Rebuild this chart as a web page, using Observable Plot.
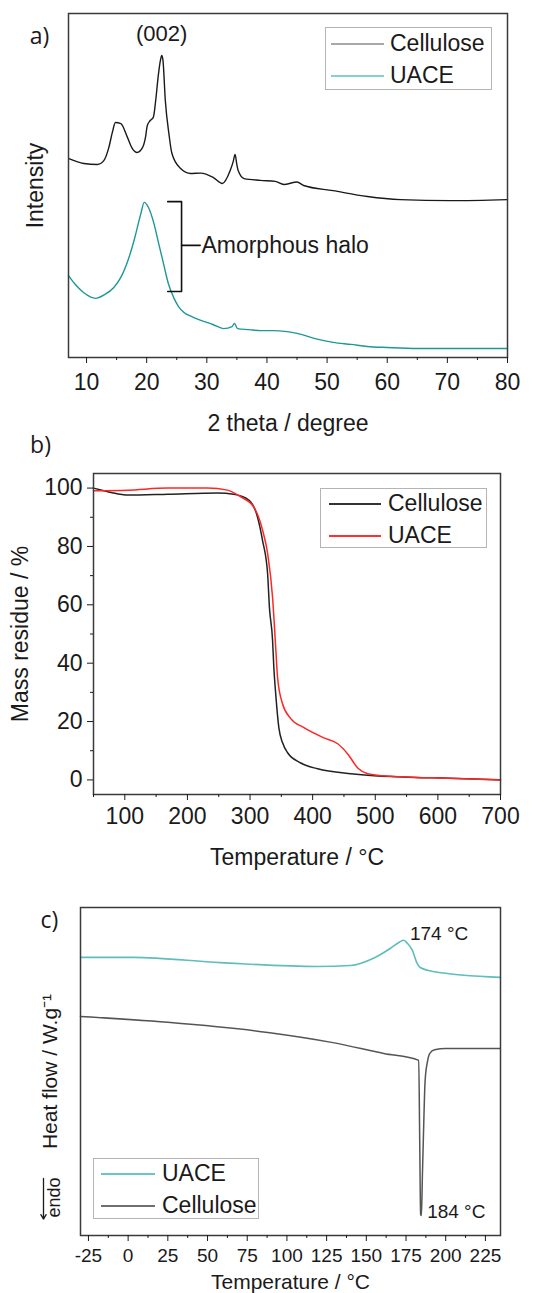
<!DOCTYPE html>
<html><head><meta charset="utf-8">
<script src="https://cdn.jsdelivr.net/npm/d3@7"></script>
<script src="https://cdn.jsdelivr.net/npm/@observablehq/plot@0.6"></script>
<style>
body{margin:0;background:#fff;}
#wrap{position:relative;width:553px;height:1293px;font-family:"Liberation Sans",Arial,sans-serif;color:#1a1a1a;}
.panel{position:relative;width:553px;}
.panel svg{display:block;}
.legend{position:absolute;border:1px solid #b4b4b4;background:#fff;box-sizing:border-box;}
.lg-line{position:absolute;height:0;}
.lg-text{position:absolute;white-space:nowrap;line-height:1;}
</style></head>
<body><div id="wrap"></div>
<script>
// ---------- DATA ----------
// a) XRD: [2theta (deg), intensity (a.u.)]
const xrdCellulose = [[7.05,57.8],[9.55,56.4],[11.8,56.1],[12.9,57.3],[13.7,61],[14.3,65.5],[14.8,68.3],[15.7,68],[16.8,64],[17.6,60.8],[18.4,59.6],[19.3,61],[19.8,64],[20.1,67.4],[20.6,68.9],[21.1,69.8],[21.5,74.7],[21.9,81.5],[22.3,86.5],[22.5,87.8],[22.7,86.5],[23.1,74.7],[23.7,65],[24.2,59.3],[25.6,55],[27.3,53.5],[29,53.6],[31.1,52.3],[32.6,50.6],[33.9,54.4],[34.4,57],[34.7,59],[35.0,56],[35.2,54.4],[36.2,52],[38.9,51.5],[41.4,51.2],[42.8,50.3],[45,51],[46.1,50],[51,48.5],[56.7,46.8],[62.2,45.9],[70.5,45.6],[80,45.9]];
const xrdUACE = [[7,23.8],[8,21.5],[9.5,18.9],[11.5,17.2],[13,18.3],[14.5,20.3],[15.7,23.3],[17,28.8],[17.9,34],[19,41.6],[19.6,45.1],[20.3,43.6],[21.2,39],[22,33.1],[22.8,27.3],[23.6,21.5],[24.5,17.4],[25.3,14.8],[26.2,13.1],[27.5,11.9],[29,10.8],[31,9.6],[32.8,8.4],[34.2,9.0],[34.6,9.9],[35.1,8.4],[37,8.1],[39,7.8],[41.1,7.8],[43,7.6],[45,7.0],[48,5.5],[51,4.4],[54,3.8],[56.7,3.2],[60,2.9],[65,2.6],[70,2.6],[80,2.6]];
const xrdTicks = [10,20,30,40,50,60,70,80];
const xrdMinorTicks = [15,25,35,45,55,65,75];
const xrdPeakLabel = {x:22.5, y:94, text:"(002)"};
const haloBrace = [
  {x:23.5,y:45.3,g:"b"},{x:25.8,y:45.3,g:"b"},{x:25.8,y:19.2,g:"b"},{x:23.5,y:19.2,g:"b"},
  {x:25.8,y:32.6,g:"m"},{x:28.9,y:32.6,g:"m"}];
const haloLabel = {x:29.1, y:32.6, text:"Amorphous halo"};

// b) TGA: [temperature (°C), mass residue (%)]
const tgaCellulose = [[50,100],[65,99.2],[80,98.4],[105,97.6],[169,97.9],[248,98.3],[274,97.9],[298,95.9],[312,90],[320,82],[328,70.8],[331,59],[336,47.8],[338,38.5],[341,29.5],[346,17.9],[352,12.7],[360,9.3],[381,5.8],[408,3.8],[461,2.1],[498,1.4],[593,0.7],[700,0]];
const tgaUACE = [[50,99.1],[105,99.3],[169,100],[232,100],[264,99.3],[285,97],[306,93.5],[320,85.6],[328,77.7],[336,62.5],[341,45.4],[344,35],[352,26],[365,21],[386,17.9],[418,14.4],[440,12.4],[456,8.9],[472,4.1],[488,2.1],[513,1.4],[593,0.7],[700,0]];
const tgaXTicks = [100,200,300,400,500,600,700];
const tgaXMinor = [50,150,250,350,450,550,650];
const tgaYTicks = [0,20,40,60,80,100];
const tgaYMinor = [10,30,50,70,90];

// c) DSC: [temperature (°C), heat flow (a.u.)]
const dscUACE = [[-30,84.8],[3,84.8],[58,83.2],[119,82],[140,82.3],[154.5,84.5],[165,87.5],[171,89.5],[173.5,90],[176,89],[179,86.9],[182,83],[184,81.7],[192,80.5],[234.4,78.7]];
const dscCellulose = [[-30,66.8],[25,65],[88,61.9],[129,58.8],[161,55.5],[183,53.4],[183.6,30],[184.2,6.5],[184.7,6.1],[185.3,18],[186,31],[187,47],[188.5,53],[190,55.5],[193,56.6],[200,57],[234.4,57]];
const dscTicks = [-25,0,25,50,75,100,125,150,175,200,225];
const dscMinor = [-12.5,12.5,37.5,62.5,87.5,112.5,137.5,162.5,187.5,212.5];
const dscPeakLabels = [{x:177.5,y:92,text:"174 °C"},{x:188.3,y:7.3,text:"184 °C"}];
const endoArrow = [{x1:-53.3,y1:17.4,x2:-53.3,y2:5.0}];

// ---------- HELPERS ----------
const FONT = '"Liberation Sans", Arial, sans-serif';
const wrap = document.getElementById("wrap");
function panel(h){const d=document.createElement("div");d.className="panel";d.style.height=h+"px";wrap.appendChild(d);return d;}
function legend(p, box, items, l1, l2, tx, fs){
  const lg=document.createElement("div");lg.className="legend";
  Object.assign(lg.style,{left:box[0]+"px",top:box[1]+"px",width:box[2]+"px",height:box[3]+"px"});
  p.appendChild(lg);
  for(const it of items){
    const ln=document.createElement("div");ln.className="lg-line";
    Object.assign(ln.style,{left:(l1-box[0])+"px",width:(l2-l1)+"px",top:(it.y-box[1]-1)+"px",borderTop:"2px solid "+it.color});
    lg.appendChild(ln);
    const t=document.createElement("div");t.className="lg-text";t.textContent=it.label;
    Object.assign(t.style,{left:(tx-box[0])+"px",top:(it.y-box[1]-fs*0.52)+"px",fontSize:fs+"px"});
    lg.appendChild(t);
  }
}
const toObj = arr => arr.map(([x,y])=>({x,y}));
const label = (s, o) => Plot.text([s], {text:d=>d, textAnchor:"middle", lineAnchor:"middle", fill:"#1a1a1a", ...o});

// ---------- PANEL A ----------
{
  const p = panel(437);
  p.appendChild(Plot.plot({
    width:553, height:437, marginTop:13, marginLeft:68, marginRight:46, marginBottom:80,
    style:{fontFamily:FONT, background:"#fff", color:"#1a1a1a", overflow:"visible"},
    x:{domain:[7,80]}, y:{domain:[0,100], axis:null},
    marks:[
      Plot.line(toObj(xrdCellulose),{x:"x",y:"y",stroke:"#1a1a1a",strokeWidth:1.4,curve:"monotone-x"}),
      Plot.line(toObj(xrdUACE),{x:"x",y:"y",stroke:"#1f9797",strokeWidth:1.4,curve:"monotone-x"}),
      Plot.line(haloBrace,{x:"x",y:"y",z:"g",stroke:"#111",strokeWidth:1.6}),
      Plot.text([haloLabel],{x:"x",y:"y",text:"text",textAnchor:"start",fontSize:23,fill:"#1a1a1a"}),
      Plot.text([xrdPeakLabel],{x:"x",y:"y",text:"text",fontSize:22,fill:"#1a1a1a"}),
      Plot.frame({stroke:"#3a3a3a",strokeWidth:1.5}),
      Plot.axisX(xrdTicks,{tickSize:6,tickPadding:10,fontSize:23,label:null,tickFormat:d=>String(d)}),
      Plot.axisX(xrdMinorTicks,{tickSize:3,tickFormat:()=>"",label:null}),
      label("2 theta / degree",{frameAnchor:"bottom",dy:66,fontSize:23}),
      label("Intensity",{frameAnchor:"left",dx:-33,rotate:-90,fontSize:23}),
      label("a)",{frameAnchor:"top-left",dx:-29,dy:23,fontSize:23,fontFamily:"'Open Sans', sans-serif"})
    ]
  }));
  legend(p,[325,27,167,63],[{label:"Cellulose",color:"#a8a8a8",y:43},{label:"UACE",color:"#86d0d0",y:75}],330,383,389,23);
}

// ---------- PANEL B ----------
{
  const p = panel(443);
  p.appendChild(Plot.plot({
    width:553, height:443, marginTop:36, marginLeft:93, marginRight:53, marginBottom:86,
    style:{fontFamily:FONT, background:"#fff", color:"#1a1a1a", overflow:"visible"},
    x:{domain:[50,700]}, y:{domain:[-5,105]},
    marks:[
      Plot.line(toObj(tgaCellulose),{x:"x",y:"y",stroke:"#222",strokeWidth:1.5,curve:"monotone-x"}),
      Plot.line(toObj(tgaUACE),{x:"x",y:"y",stroke:"#ff2626",strokeWidth:1.5,curve:"monotone-x"}),
      Plot.frame({stroke:"#3a3a3a",strokeWidth:1.5}),
      Plot.axisX(tgaXTicks,{tickSize:6,tickPadding:7,fontSize:23,label:null,tickFormat:d=>String(d)}),
      Plot.axisX(tgaXMinor,{tickSize:3,tickFormat:()=>"",label:null}),
      Plot.axisY(tgaYTicks,{tickSize:6,tickPadding:5,fontSize:23,label:null,tickFormat:d=>String(d)}),
      Plot.axisY(tgaYMinor,{tickSize:3,tickFormat:()=>"",label:null}),
      label("Temperature / °C",{frameAnchor:"bottom",dy:63,fontSize:23}),
      label("Mass residue / %",{frameAnchor:"left",dx:-73,rotate:-90,fontSize:23}),
      label("b)",{frameAnchor:"top-left",dx:-53,dy:-28,fontSize:23,fontFamily:"'Open Sans', sans-serif"})
    ]
  }));
  legend(p,[320,51,167,60],[{label:"Cellulose",color:"#333",y:66},{label:"UACE",color:"#ff3030",y:98}],328,380,387,23);
}

// ---------- PANEL C ----------
{
  const p = panel(413);
  p.appendChild(Plot.plot({
    width:553, height:413, marginTop:27, marginLeft:80, marginRight:53, marginBottom:58,
    style:{fontFamily:FONT, background:"#fff", color:"#1a1a1a", overflow:"visible"},
    x:{domain:[-30,234.5]}, y:{domain:[0,100], axis:null},
    marks:[
      Plot.line(toObj(dscUACE),{x:"x",y:"y",stroke:"#5ebdbd",strokeWidth:1.6,curve:"monotone-x"}),
      Plot.line(toObj(dscCellulose),{x:"x",y:"y",stroke:"#555",strokeWidth:1.5,curve:"monotone-x"}),
      Plot.text(dscPeakLabels,{x:"x",y:"y",text:"text",textAnchor:"start",fontSize:19,fill:"#1a1a1a"}),
      Plot.frame({stroke:"#3a3a3a",strokeWidth:1.5}),
      Plot.axisX(dscTicks,{tickSize:6,tickPadding:7,fontSize:19,label:null,tickFormat:d=>String(d)}),
      Plot.axisX(dscMinor,{tickSize:3,tickFormat:()=>"",label:null}),
      label("Temperature / °C",{frameAnchor:"bottom",dy:47,fontSize:21}),
      label("Heat flow / W.g⁻¹",{frameAnchor:"left",dx:-30,rotate:-90,fontSize:21}),
      label("endo",{frameAnchor:"bottom-left",dx:-26,dy:-38,rotate:-90,fontSize:18}),
      Plot.arrow(endoArrow,{x1:"x1",y1:"y1",x2:"x2",y2:"y2",stroke:"#1a1a1a",strokeWidth:1.3,headLength:6}),
      label("c)",{frameAnchor:"top-left",dx:-31,dy:13,fontSize:23,fontFamily:"'Open Sans', sans-serif"})
    ]
  }));
  legend(p,[93,278,166,61],[{label:"UACE",color:"#6cc4c4",y:293},{label:"Cellulose",color:"#707070",y:325}],100,154,161,23);
}
</script></body></html>
